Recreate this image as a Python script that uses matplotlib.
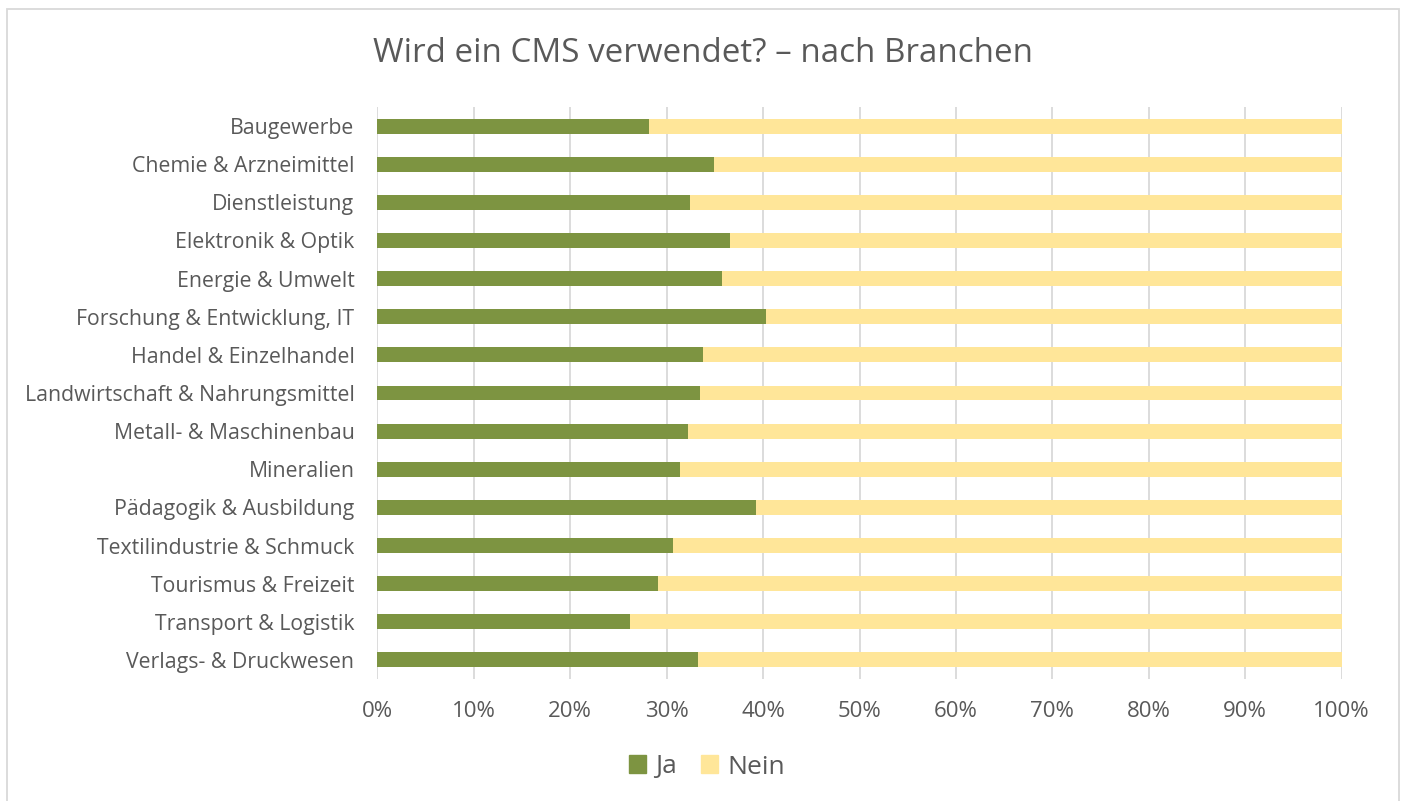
import matplotlib
matplotlib.use("Agg")
import matplotlib.pyplot as plt
from matplotlib.patches import Rectangle, Patch
from matplotlib.ticker import FuncFormatter

categories = [
    "Baugewerbe", "Chemie & Arzneimittel", "Dienstleistung", "Elektronik & Optik",
    "Energie & Umwelt", "Forschung & Entwicklung, IT", "Handel & Einzelhandel",
    "Landwirtschaft & Nahrungsmittel", "Metall- & Maschinenbau", "Mineralien",
    "Pädagogik & Ausbildung", "Textilindustrie & Schmuck", "Tourismus & Freizeit",
    "Transport & Logistik", "Verlags- & Druckwesen",
]
ja = [28.2, 34.9, 32.4, 36.6, 35.7, 40.3, 33.8, 33.5, 32.2, 31.4, 39.3, 30.7, 29.1, 26.2, 33.3]
nein = [100 - v for v in ja]

GREEN = "#7D9441"
YELLOW = "#FFE699"
TEXT = "#595959"

plt.rcParams['font.family'] = ['Open Sans', 'DejaVu Sans']

fig = plt.figure(figsize=(14.06, 8.01), dpi=100)
ax = fig.add_axes([377.3/1406, 1-679/801, (1341.7-377.3)/1406, (679-107)/801])

y = list(range(len(categories)))
ax.barh(y, [v/100 for v in ja], height=0.39, color=GREEN, zorder=3, label="Ja")
ax.barh(y, [v/100 for v in nein], left=[v/100 for v in ja], height=0.39, color=YELLOW, zorder=3, label="Nein")

ax.set_ylim(len(categories)-0.5, -0.5)
ax.set_xlim(0, 1)
ax.set_yticks(y)
ax.set_yticklabels(categories, fontsize=15.3, color=TEXT)
ax.set_xticks([i/10 for i in range(11)])
ax.xaxis.set_major_formatter(FuncFormatter(lambda v, p: f"{int(round(v*100))}%"))
ax.tick_params(axis='x', labelsize=16, labelcolor=TEXT, length=0, pad=16)
ax.tick_params(axis='y', length=0, pad=16.5)
ax.grid(axis='x', color="#D9D9D9", linewidth=1.3, zorder=0)
for s in ax.spines.values():
    s.set_visible(False)

fig.text(0.5, 1-54/801, "Wird ein CMS verwendet? – nach Branchen", ha='center', va='center',
         fontsize=23.9, color=TEXT)

handles = [Patch(color=GREEN, label="Ja"), Patch(color=YELLOW, label="Nein")]
fig.legend(handles=handles, loc='center', bbox_to_anchor=(707/1406, 1-767/801), ncol=2,
           frameon=False, fontsize=19, labelcolor=TEXT, handlelength=0.65, handleheight=0.65,
           handletextpad=0.35, columnspacing=0.9)

fig.patches.append(Rectangle((7/1406, -0.01), (1399-7)/1406, 1.01 - 9/801, transform=fig.transFigure,
                             fill=False, edgecolor="#D9D9D9", linewidth=1.3))

fig.savefig("out.png", dpi=100, facecolor="white")
